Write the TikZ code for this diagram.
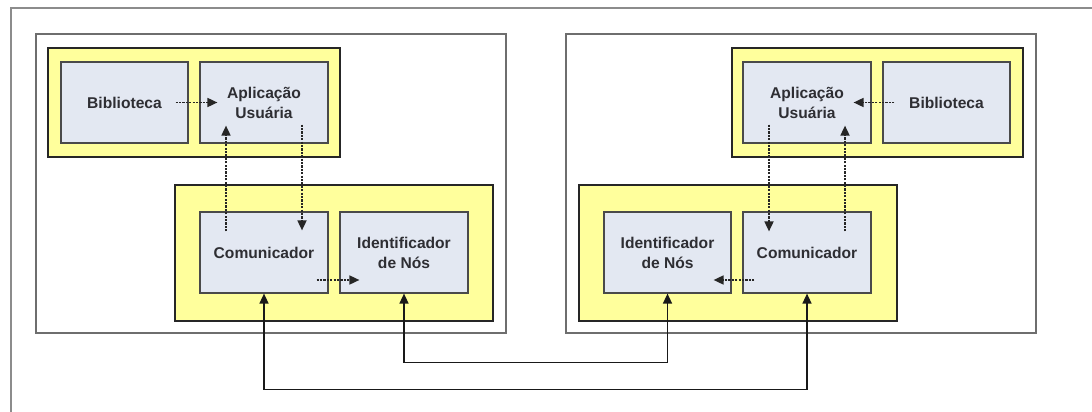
\documentclass[tikz,border=0pt]{standalone}
\usepackage{fontspec}
\setmainfont{Liberation Sans}
\usetikzlibrary{arrows.meta,calc}

\definecolor{framegray}{HTML}{8C8C8C}
\definecolor{panelgray}{HTML}{6E6E6E}
\definecolor{hostyellow}{HTML}{FFFF9C}
\definecolor{modfill}{HTML}{E3E8F2}
\definecolor{modedge}{HTML}{4A4A4A}
\definecolor{labeltext}{HTML}{2E2E33}

\tikzset{
  panel/.style={draw=panelgray, line width=1.3pt, fill=white,
    minimum width=470pt, minimum height=299pt, inner sep=0pt},
  host/.style={draw=black!85, line width=1.8pt, fill=hostyellow, inner sep=0pt},
  module/.style={draw=modedge, line width=1.2pt, fill=modfill, inner sep=0pt,
    minimum height=81pt, align=center, text=labeltext,
    font=\fontsize{15.6}{20}\selectfont\bfseries},
  localflow/.style={draw=black!85, line width=1.7pt, dash pattern=on 2.2pt off 1.2pt,
    -{Triangle[length=10pt,width=9pt]}},
  netlink/.style={draw=black!90, line width=1.5pt,
    {Triangle[length=10pt,width=9pt]}-{Triangle[length=10pt,width=9pt]}}
}

\begin{document}
\begin{tikzpicture}[x=1pt,y=-1pt]
  \useasboundingbox (0,0) rectangle (1092,412);

  % enclosing frame, cut off on the right and at the bottom
  \coordinate (ftl) at (11,8);
  \draw[framegray, line width=1.4pt] (1092,8) -- (ftl) -- (11,412);

  % the two machines
  \node[panel] (lpanel) at (271,183.5) {};
  \node[panel] (rpanel) at (801,183.5) {};

  % left machine
  \node[host, minimum width=292pt, minimum height=109pt] (lyt) at (194,102.5) {};
  \node[module, minimum width=127pt] (lbib) at (124.5,102.5) {Biblioteca};
  \node[module, minimum width=128pt] (lapp) at (264,102.5) {Aplicação\\Usuária};
  \node[host, minimum width=318pt, minimum height=136pt] (lyb) at (334,253) {};
  \node[module, minimum width=128pt] (lcom) at (264,252.5) {Comunicador};
  \node[module, minimum width=128pt] (lid) at (404,252.5) {Identificador\\de Nós};

  % right machine
  \node[host, minimum width=291pt, minimum height=109pt] (ryt) at (877.5,102.5) {};
  \node[module, minimum width=128pt] (rapp) at (807,102.5) {Aplicação\\Usuária};
  \node[module, minimum width=127pt] (rbib) at (946.5,102.5) {Biblioteca};
  \node[host, minimum width=318pt, minimum height=136pt] (ryb) at (738,253) {};
  \node[module, minimum width=127pt] (rid) at (667.5,252.5) {Identificador\\de Nós};
  \node[module, minimum width=128pt] (rcom) at (807,252.5) {Comunicador};

  % local flows, left machine
  \draw[localflow, shorten <=-13pt, shorten >=-18pt] (lbib.east) -- (lapp.west);
  \draw[localflow, shorten <=-20pt, shorten >=-18pt]
    ([xshift=-38pt]lcom.north) -- ([xshift=-38pt]lapp.south);
  \draw[localflow, shorten <=-19pt, shorten >=-19pt]
    ([xshift=38pt]lapp.south) -- ([xshift=38pt]lcom.north);
  \draw[localflow, shorten <=-12pt, shorten >=-20pt]
    ([yshift=-27.5pt]lcom.east) -- ([yshift=-27.5pt]lid.west);

  % local flows, right machine
  \draw[localflow, shorten <=-12pt, shorten >=-18pt] (rbib.west) -- (rapp.east);
  \draw[localflow, shorten <=-19pt, shorten >=-20pt]
    ([xshift=-38pt]rapp.south) -- ([xshift=-38pt]rcom.north);
  \draw[localflow, shorten <=-20pt, shorten >=-18pt]
    ([xshift=38pt]rcom.north) -- ([xshift=38pt]rapp.south);
  \draw[localflow, shorten <=-12pt, shorten >=-18pt]
    ([yshift=-27.5pt]rcom.west) -- ([yshift=-27.5pt]rid.east);

  % network links between the machines
  \draw[netlink] (lcom.south) -- ++(0,96) -| (rcom.south);
  \draw[netlink] (lid.south) -- ++(0,69) -| (rid.south);
\end{tikzpicture}
\end{document}
